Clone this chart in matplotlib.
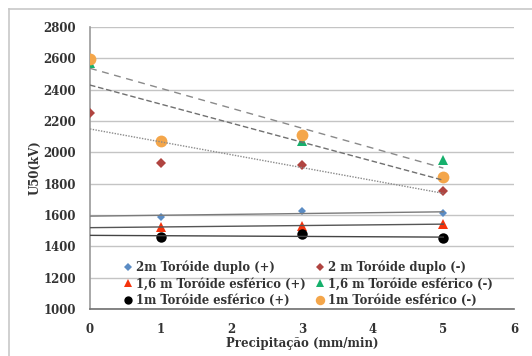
import numpy as np
import matplotlib
matplotlib.use("Agg")
import matplotlib.pyplot as plt
from matplotlib.lines import Line2D

# Data
x_plus = [1, 3, 5]
x_minus = [0, 1, 3, 5]
x_green = [0, 3, 5]

duplo_2m_plus = [1589, 1628, 1611]
duplo_2m_minus = [2249, 1934, 1919, 1755]
esf_16_plus = [1525, 1530, 1543]
esf_16_minus = [2570, 2070, 1950]
esf_1_plus = [1461, 1477, 1452]
esf_1_minus = [2598, 2074, 2111, 1841]

labels = ["2m Toróide duplo (+)", "2 m Toróide duplo (-)",
          "1,6 m Toróide esférico (+)", "1,6 m Toróide esférico (-)",
          "1m Toróide esférico (+)", "1m Toróide esférico (-)"]

xticks = [0, 1, 2, 3, 4, 5, 6]
yticks = [1000, 1200, 1400, 1600, 1800, 2000, 2200, 2400, 2600, 2800]

W, H = 532, 356
fig = plt.figure(figsize=(W / 100, H / 100), dpi=100)
ax = fig.add_axes([90 / W, 1 - 309 / H, (514 - 90) / W, (309 - 27) / H])

font = dict(family="DejaVu Serif", weight="bold")

series = [
    (x_plus, duplo_2m_plus, "D", "#5b8cc4", 4.5, "-", "#7a7a7a", labels[0]),
    (x_minus, duplo_2m_minus, "D", "#b04440", 5.5, (0, (1, 1)), "#8a8a8a", labels[1]),
    (x_plus, esf_16_plus, "^", "#f5330c", 6.5, "-", "#555555", labels[2]),
    (x_green, esf_16_minus, "^", "#16b06c", 7.5, (0, (5, 4)), "#8a8a8a", labels[3]),
    (x_plus, esf_1_plus, "o", "#000000", 7.5, "-", "#444444", labels[4]),
    (x_minus, esf_1_minus, "o", "#f4a64a", 8.5, (0, (4, 2)), "#707070", labels[5]),
]

handles = []
for xs, ys, m, c, ms, ls, lc, lab in series:
    h, = ax.plot(xs, ys, linestyle="none", marker=m, color=c, markersize=ms,
                 markeredgewidth=0, label=lab, zorder=3)
    handles.append(h)

# linear trend lines from x=0 to x=5
xt = np.array([0.0, 5.0])
for xs, ys, m, c, ms, ls, lc, lab in series:
    k, b = np.polyfit(xs, ys, 1)
    ax.plot(xt, k * xt + b, linestyle=ls, color=lc, linewidth=1.0, zorder=4)

ax.set_xlim(0, 6)
ax.set_ylim(1000, 2800)
ax.set_xticks(xticks)
ax.set_yticks(yticks)
ax.set_xticklabels([str(v) for v in xticks], fontsize=8.5, **font)
ax.set_yticklabels([str(v) for v in yticks], fontsize=8.5, **font)
ax.tick_params(length=0, pad=10, colors="#333333")
ax.yaxis.grid(True, color="#c4c4c4", linewidth=1.0)
ax.set_axisbelow(True)
for s in ["top", "right"]:
    ax.spines[s].set_visible(False)
ax.spines["left"].set_color("#9a9a9a")
ax.spines["bottom"].set_color("#707070")
ax.spines["left"].set_linewidth(1.2)
ax.spines["bottom"].set_linewidth(1.2)

ax.set_ylabel("U50(kV)", fontsize=8.5, color="#333333", **font)
ax.set_xlabel("Precipitação (mm/min)", fontsize=8.5, color="#333333", **font)
ax.yaxis.label.set(va="center", ha="center")
ax.xaxis.label.set(va="center", ha="center")
ax.yaxis.set_label_coords((35 - 90) / 424, 0.5)
ax.xaxis.set_label_coords(0.5, (309 - 343) / 282)

order = [0, 2, 4, 1, 3, 5]
leg = ax.legend([handles[i] for i in order], [labels[i] for i in order],
                ncol=2, loc="lower left", bbox_to_anchor=(0.057, -0.03),
                frameon=False, handlelength=0.6, handletextpad=0.35,
                columnspacing=1.0, labelspacing=0.3, markerscale=0.8,
                prop=dict(family="DejaVu Serif", weight="bold", size=8.35))
for t in leg.get_texts():
    t.set_color("#333333")

# outer frame
fig.add_artist(Line2D([9 / W, 9 / W], [0, 1 - 9 / H], transform=fig.transFigure,
                      color="#c8c8c8", linewidth=1.2))
fig.add_artist(Line2D([9 / W, 1], [1 - 9 / H, 1 - 9 / H], transform=fig.transFigure,
                      color="#c8c8c8", linewidth=1.2))

fig.savefig("out.png", dpi=100)
